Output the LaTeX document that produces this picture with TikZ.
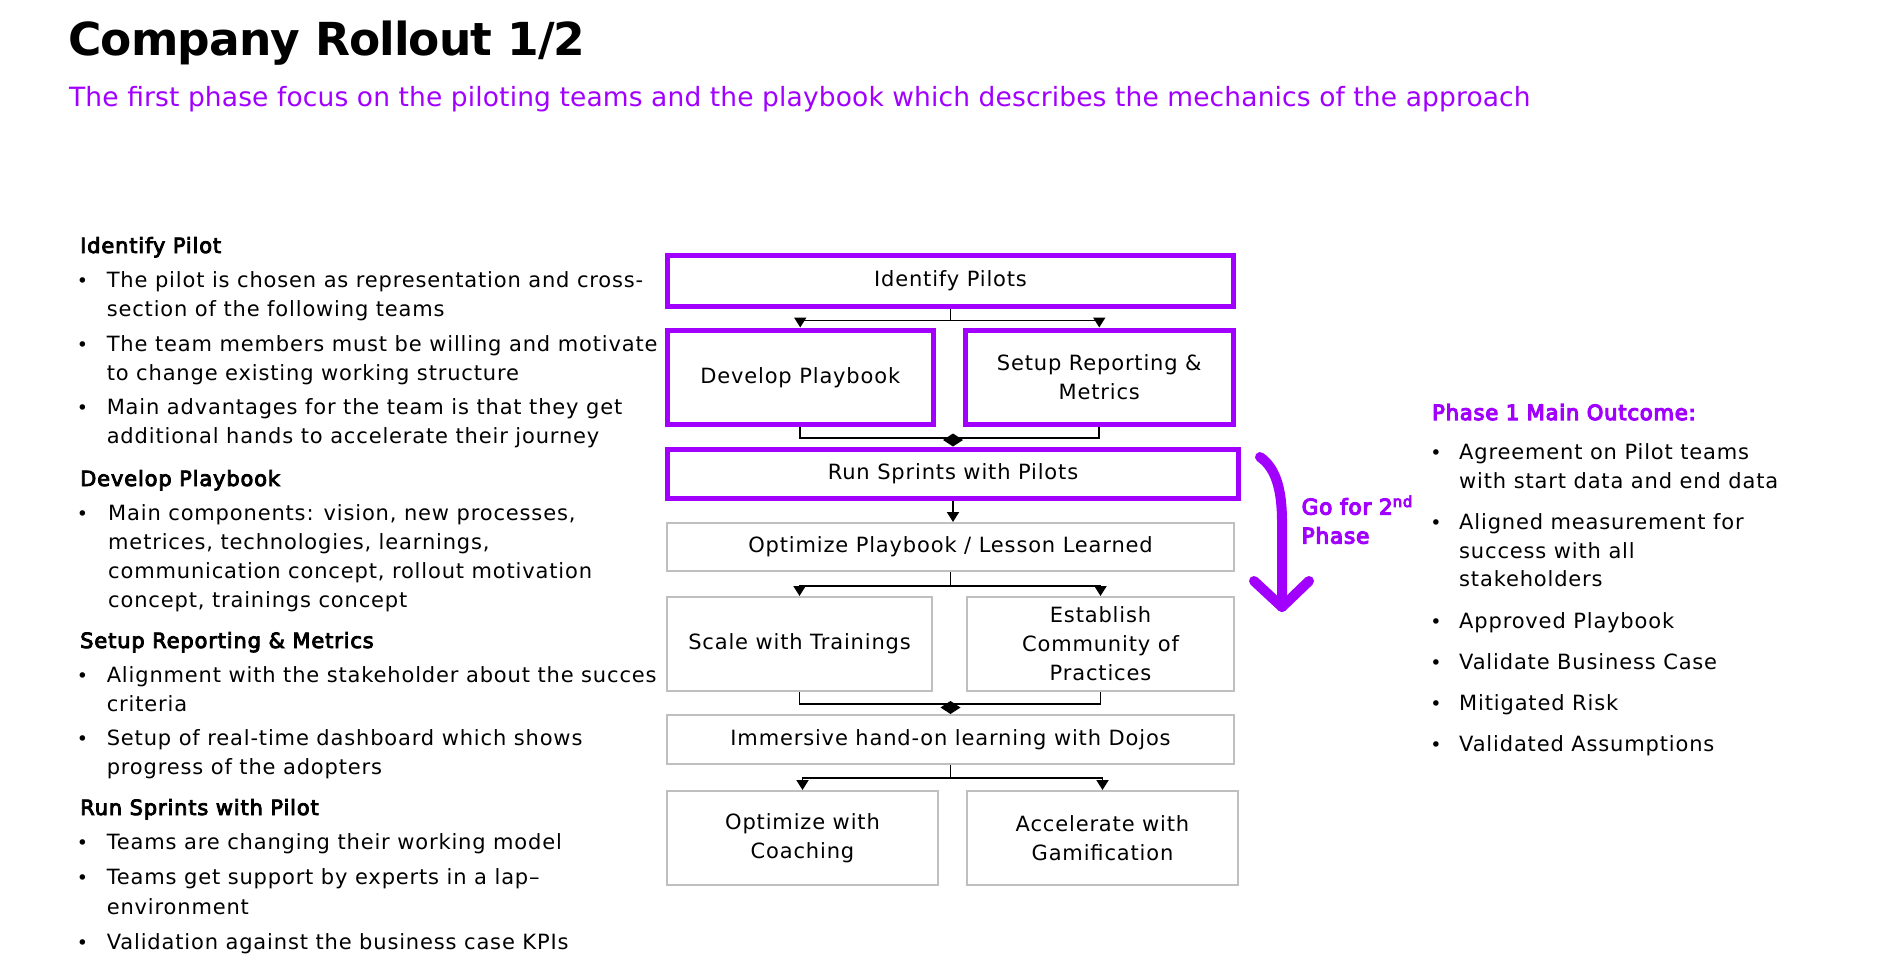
\documentclass[tikz,border=0pt]{standalone}
\usepackage{fontspec}
\setmainfont{DejaVu Sans}
\newfontfamily\bodyfont{DejaVu Sans}[LetterSpace=4]
\newfontfamily\semifont{DejaVu Sans}[LetterSpace=4,FakeBold=4]
\newfontfamily\strongfont{DejaVu Sans}[LetterSpace=4,FakeBold=5.5]
\newfontfamily\subfont{DejaVu Sans}[LetterSpace=0.5]
\newfontfamily\titlefont{DejaVu Sans}[LetterSpace=-2]
\usetikzlibrary{arrows.meta,calc}
\definecolor{brandpurple}{HTML}{A100FF}
\definecolor{boxgray}{HTML}{BFBFBF}

\tikzset{
  bodytext/.style={anchor=base west, inner sep=0pt, font=\bodyfont\fontsize{21}{29}\selectfont},
  headtext/.style={anchor=base west, inner sep=0pt, font=\semifont\fontsize{21}{29}\selectfont},
  bulletdot/.style={anchor=base, inner sep=0pt, font=\fontsize{19}{29}\selectfont},
  pbox/.style={draw=brandpurple, line width=5pt, fill=white, inner sep=0pt, align=center,
    font=\bodyfont\fontsize{21}{29}\selectfont},
  gbox/.style={draw=boxgray, line width=2pt, fill=white, inner sep=0pt, align=center,
    font=\bodyfont\fontsize{21}{29}\selectfont},
  conn/.style={draw=black, line width=1.8pt},
  arrowtip/.style={-{Triangle[width=12pt,length=10pt]}},
  diamondtip/.style={-{Diamond[width=20pt,length=13pt]}},
  bigarrow/.style={draw=brandpurple, line width=10pt, line cap=round, line join=round},
  gotext/.style={anchor=base west, inner sep=0pt, text=brandpurple, font=\strongfont\fontsize{21.5}{29}\selectfont},
}

\begin{document}
\begin{tikzpicture}[x=1pt,y=-1pt]
\fill[white] (0,0) rectangle (1900,966);
\useasboundingbox (0,0) rectangle (1900,966);

% heading
\node[anchor=base west, inner sep=0pt, font=\titlefont\bfseries\fontsize{45.5}{50}\selectfont] (title) at (68,56) {Company Rollout 1/2};
\node[anchor=base west, inner sep=0pt, text=brandpurple, font=\subfont\fontsize{26.5}{30}\selectfont] (subtitle) at (69,106)
  {The first phase focus on the piloting teams and the playbook which describes the mechanics of the approach};

% left column: notes on each step
\node[headtext] (h1) at (80,253) {Identify Pilot};
\node[bulletdot] (b11) at (82.5,287) {•};
\node[bodytext] (t11) at (106.6,287) {The pilot is chosen as representation and cross-};
\node[bodytext] (t12) at (106.6,316) {section of the following teams};
\node[bulletdot] (b12) at (82.5,351) {•};
\node[bodytext] (t13) at (106.6,351) {The team members must be willing and motivate};
\node[bodytext] (t14) at (106.6,380) {to change existing working structure};
\node[bulletdot] (b13) at (82.5,414) {•};
\node[bodytext] (t15) at (106.6,414) {Main advantages for the team is that they get};
\node[bodytext] (t16) at (106.6,443) {additional hands to accelerate their journey};

\node[headtext] (h2) at (80,486) {Develop Playbook};
\node[bulletdot] (b21) at (82.5,520) {•};
\node[bodytext] (t21) at (108,520) {Main components: vision, new processes,};
\node[bodytext] (t22) at (108,549) {metrices, technologies, learnings,};
\node[bodytext] (t23) at (108,578) {communication concept, rollout motivation};
\node[bodytext] (t24) at (108,607) {concept, trainings concept};

\node[headtext] (h3) at (80,648) {Setup Reporting \& Metrics};
\node[bulletdot] (b31) at (82.5,682) {•};
\node[bodytext] (t31) at (106.6,682) {Alignment with the stakeholder about the succes};
\node[bodytext] (t32) at (106.6,711) {criteria};
\node[bulletdot] (b32) at (82.5,745) {•};
\node[bodytext] (t33) at (106.6,745) {Setup of real-time dashboard which shows};
\node[bodytext] (t34) at (106.6,774) {progress of the adopters};

\node[headtext] (h4) at (80,815) {Run Sprints with Pilot};
\node[bulletdot] (b41) at (82.5,849) {•};
\node[bodytext] (t41) at (106.6,849) {Teams are changing their working model};
\node[bulletdot] (b42) at (82.5,884) {•};
\node[bodytext] (t42) at (106.6,884) {Teams get support by experts in a lap–};
\node[bodytext] (t43) at (106.6,914) {environment};
\node[bulletdot] (b43) at (82.5,949) {•};
\node[bodytext] (t44) at (106.6,949) {Validation against the business case KPIs};

% flow of steps
\node[pbox, minimum width=566pt, minimum height=50.5pt] (ip) at (950.5,280.75) {Identify Pilots};
\node[pbox, minimum width=265.5pt, minimum height=94.5pt] (dp) at (800.25,377.25) {Develop Playbook};
\node[pbox, minimum width=268.5pt, minimum height=94.5pt] (sr) at (1099.25,377.25) {Setup Reporting \&\\Metrics};
\node[pbox, minimum width=571pt, minimum height=49pt] (rs) at (953,473.5) {Run Sprints with Pilots};
\node[gbox, minimum width=567pt, minimum height=48pt] (op) at (950.5,547) {Optimize Playbook / Lesson Learned};
\node[gbox, minimum width=265pt, minimum height=94pt] (st) at (799.5,644) {Scale with Trainings};
\node[gbox, minimum width=267pt, minimum height=94pt] (ec) at (1100.5,644) {Establish\\Community of\\Practices};
\node[gbox, minimum width=567pt, minimum height=49pt] (im) at (950.5,739.5) {Immersive hand-on learning with Dojos};
\node[gbox, minimum width=271pt, minimum height=94pt] (oc) at (802.5,838) {Optimize with\\Coaching};
\node[gbox, minimum width=271pt, minimum height=94pt] (ag) at (1102.5,838) {Accelerate with\\Gamification};

% connectors
\draw[conn] (ip.south) -- ++(0,12) coordinate (j1);
\draw[conn,arrowtip] (j1) -| (dp.north);
\draw[conn,arrowtip] (j1) -| (sr.north);

\coordinate (j2) at ($(rs.north)+(0,-8.5)$);
\draw[conn] (dp.south) |- (j2) -| (sr.south);
\draw[conn,diamondtip] (j2) -- (rs.north);

\draw[conn,arrowtip] (rs.south) -- (rs.south |- op.north);

\draw[conn] (op.south) -- ++(0,14) coordinate (j3);
\draw[conn,arrowtip] (j3) -| (st.north);
\draw[conn,arrowtip] (j3) -| (ec.north);

\coordinate (j4) at ($(im.north)+(0,-10)$);
\draw[conn] (st.south) |- (j4) -| (ec.south);
\draw[conn,diamondtip] (j4) -- (im.north);

\draw[conn] (im.south) -- ++(0,13) coordinate (j5);
\draw[conn,arrowtip] (j5) -| (oc.north);
\draw[conn,arrowtip] (j5) -| (ag.north);

% hand-over to the second phase
\coordinate (gs) at (1260,457);
\coordinate (ge) at (1282,607);
\draw[bigarrow] (gs) .. controls (1276,468) and (1282,490) .. (1282,522) -- (ge);
\draw[bigarrow] (1254,581) -- (ge) -- (1309,581);
\node[gotext] (go1) at (1301.5,514.5) {Go for 2\textsuperscript{nd}};
\node[gotext] (go2) at (1301.5,543.5) {Phase};

% right column: outcome of the phase
\node[anchor=base west, inner sep=0pt, text=brandpurple, font=\strongfont\fontsize{21}{29}\selectfont] (oh) at (1432,420) {Phase 1 Main Outcome:};
\node[bulletdot] (r1) at (1436,459) {•};
\node[bodytext] (o1) at (1459,459) {Agreement on Pilot teams};
\node[bodytext] (o2) at (1459,488) {with start data and end data};
\node[bulletdot] (r2) at (1436,529) {•};
\node[bodytext] (o3) at (1459,529) {Aligned measurement for};
\node[bodytext] (o4) at (1459,558) {success with all};
\node[bodytext] (o5) at (1459,586) {stakeholders};
\node[bulletdot] (r3) at (1436,628) {•};
\node[bodytext] (o6) at (1459,628) {Approved Playbook};
\node[bulletdot] (r4) at (1436,669) {•};
\node[bodytext] (o7) at (1459,669) {Validate Business Case};
\node[bulletdot] (r5) at (1436,710) {•};
\node[bodytext] (o8) at (1459,710) {Mitigated Risk};
\node[bulletdot] (r6) at (1436,751) {•};
\node[bodytext] (o9) at (1459,751) {Validated Assumptions};
\end{tikzpicture}
\end{document}
